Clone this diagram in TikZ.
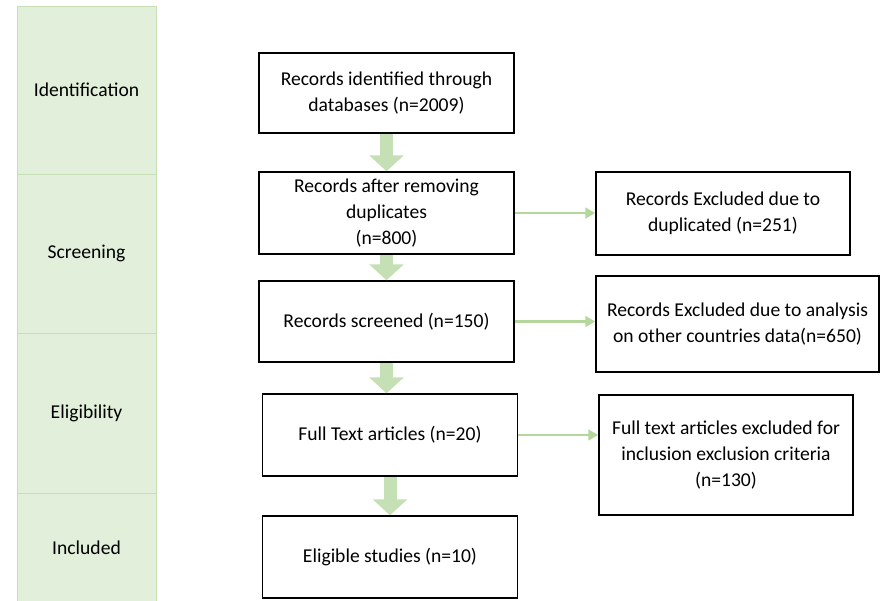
\documentclass[tikz,border=0pt]{standalone}
\usepackage{fontspec}
\setmainfont{Carlito}
\usepackage{xcolor}
\usetikzlibrary{arrows.meta}
\definecolor{stage-fill}{HTML}{E2EFDA}
\definecolor{stage-edge}{HTML}{C5E0B4}
\definecolor{arrow-green}{HTML}{C5E0B4}
\definecolor{line-green}{HTML}{B4D89C}
\tikzset{
    stage-box/.style = {draw=stage-edge, fill=stage-fill, thin, rectangle, minimum width=104.25pt, inner sep=0pt, font=\fontsize{14.7}{19.5}\selectfont},
    step-box/.style = {draw=black, fill=white, line width=1.1pt, rectangle, minimum width=191.25pt, inner sep=0pt, align=center, font=\fontsize{14.7}{19.5}\selectfont},
    block-arrow/.style = {draw=arrow-green, line width=9.75pt, -{Triangle[width=25.5pt, length=12pt]}},
    side-arrow/.style = {draw=line-green, line width=2.2pt, -{Triangle[width=8pt, length=7.5pt]}},
}
\begin{document}
\begin{tikzpicture}[x=0.75pt, y=-0.75pt]
\useasboundingbox (0,0) rectangle (882,600);
% stages on the left
\node[stage-box, minimum height=126pt] (ident) at (86.5,90) {Identification};
\node[stage-box, minimum height=119.25pt] (screen) at (86.5,253.5) {Screening};
\node[stage-box, minimum height=120pt] (elig) at (86.5,413) {Eligibility};
\node[stage-box, minimum height=82pt] (incl) at (86.5,547.5) {Included};

% main flow
\node[step-box, minimum height=60pt] (found) at (386.5,93) {Records identified through\\databases (n=2009)};
\node[step-box, minimum height=61.5pt] (nodup) at (386.5,213) {Records after removing\\duplicates\\(n=800)};
\node[step-box, minimum height=60.75pt] (screened) at (386.5,321.5) {Records screened (n=150)};
\node[step-box, minimum height=61.5pt] (fulltext) at (390,435) {Full Text articles (n=20)};
\node[step-box, minimum height=61.5pt] (eligible) at (390,557) {Eligible studies (n=10)};

% excluded records
\node[step-box, minimum width=190.5pt, minimum height=62.25pt] (exdup) at (723,213.5) {Records Excluded due to\\duplicated (n=251)};
\node[step-box, minimum width=212.25pt, minimum height=72pt] (excountry) at (737.5,324) {Records Excluded due to analysis\\on other countries data(n=650)};
\node[step-box, minimum width=190.5pt, minimum height=90pt] (excrit) at (726,455) {Full text articles excluded for\\inclusion exclusion criteria\\(n=130)};

\draw[block-arrow] (found) -- (nodup);
\draw[block-arrow] (nodup) -- (screened);
\draw[block-arrow] (screened.south) -- (screened.south |- fulltext.north);
\draw[block-arrow] (fulltext) -- (eligible);

\draw[side-arrow] (nodup.east) -- (nodup.east -| exdup.west);
\draw[side-arrow] (screened.east) -- (screened.east -| excountry.west);
\draw[side-arrow] (fulltext.east) -- (fulltext.east -| excrit.west);
\end{tikzpicture}
\end{document}
